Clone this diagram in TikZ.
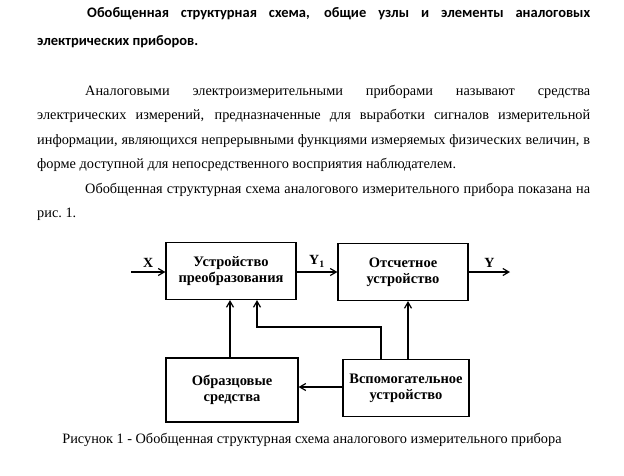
\documentclass[tikz,border=0pt]{standalone}
\usepackage{fontspec}
\setmainfont{Liberation Serif}
\newfontfamily\headfont{Carlito}
\usetikzlibrary{arrows.meta}

\tikzset{
    block/.style={draw,line width=1.2pt,minimum width=130pt,minimum height=57pt,
        font=\fontsize{14.5}{16}\selectfont\bfseries,align=center},
    link/.style={line width=1.2pt,-{Straight Barb[length=6pt,width=7pt]}},
    page/.style={anchor=north west,inner sep=0pt,text width=553pt,align=justify},
}

\begin{document}
\begin{tikzpicture}[x=1pt,y=-1pt]
    \useasboundingbox (0,0) rectangle (624,475);

    % text of the page
    \node[page] (head) at (37,7)
        {\headfont\bfseries\fontsize{14.5}{28}\selectfont\hspace*{50pt}Обобщенная структурная схема, общие узлы и элементы аналоговых\linebreak электрических приборов.\par};
    \node[page] (body) at (37,85)
        {\fontsize{14.3}{24.5}\selectfont\hspace*{48pt}Аналоговыми электроизмерительными приборами называют средства\linebreak
        электрических измерений, предназначенные для выработки сигналов измерительной\linebreak
        информации, являющихся непрерывными функциями измеряемых физических величин, в\linebreak
        форме доступной для непосредственного восприятия наблюдателем.\par
        \hspace*{48pt}Обобщенная структурная схема аналогового измерительного прибора показана на\linebreak
        рис.~1.\par};

    % blocks
    \node[block] (conv) at (231,271) {Устройство\\преобразования};
    \node[block] (read) at (403,272) {Отсчетное\\устройство};
    \node[block,minimum height=64pt,minimum width=132pt] (ref) at (232,390) {Образцовые\\средства};
    \node[block,minimum width=126pt] (aux) at (406,388) {Вспомогательное\\устройство};

    \coordinate (xin) at (131,272);
    \coordinate (yout) at (510,272);
    \coordinate (bend) at (381,327);

    % connectors
    \draw[link] (xin) -- node[above=1pt,font=\fontsize{14}{15}\selectfont\bfseries] {X} (conv.west|-xin);
    \draw[link] (conv.east|-xin) -- node[above=1pt,font=\fontsize{14}{15}\selectfont\bfseries] {Y$_\mathbf{1}$} (read.west|-xin);
    \draw[link] (read.east|-xin) -- node[above=1pt,font=\fontsize{14}{15}\selectfont\bfseries] {Y} (yout);
    \draw[link] (ref.north-|230,0) -- (230,0|-conv.south);
    \draw[link] (aux.north-|bend) -- (bend) -- (257,327) -- (257,0|-conv.south);
    \draw[link] (aux.north-|408,0) -- (408,0|-read.south);
    \draw[link] (aux.west|-0,387) -- (ref.east|-0,387);

    \node[anchor=north,font=\fontsize{14.3}{16}\selectfont] (cap) at (312,430)
        {Рисунок 1 - Обобщенная структурная схема аналогового измерительного прибора};
\end{tikzpicture}
\end{document}
